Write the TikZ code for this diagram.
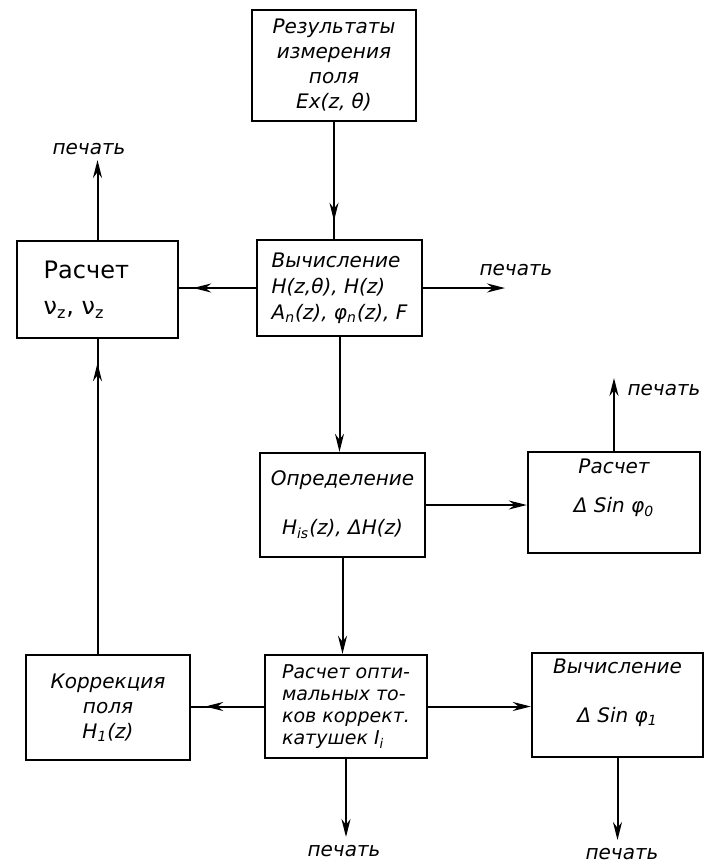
\documentclass[tikz,border=0pt]{standalone}
\usepackage{fontspec}
\setmainfont{DejaVu Sans}
\usetikzlibrary{arrows.meta,decorations.markings}

\tikzset{
  block/.style={draw, line width=1.2pt, inner sep=2pt, align=center,
    font=\itshape\fontsize{10}{12.5}\selectfont},
  outlink/.style={line width=1pt, -{Stealth[length=9pt,width=4.5pt]}},
  tiplink/.style={line width=1pt, postaction=decorate,
    decoration={markings, mark=at position #1 with {\arrow{Stealth[length=9pt,width=4.5pt]}}}},
  printlabel/.style={font=\itshape\fontsize{10}{12}\selectfont}
}

\begin{document}
\begin{tikzpicture}[x=0.5pt, y=-0.5pt]
        \useasboundingbox (0, 0) rectangle (709, 864);

        % Define blocks
        \node at (334, 65.5) (res) [block, minimum width=82pt, minimum height=55.5pt]
            {Результаты\\измерения\\поля\\Ex(z, θ)};
        \node at (339.5, 288) (vych) [block, align=left, minimum width=82.5pt, minimum height=48pt,
            font=\itshape\fontsize{10}{13}\selectfont]
            {Вычисление\\H(z,θ), H(z)\\A\textsubscript{n}(z), φ\textsubscript{n}(z), F};
        \node at (97.5, 289.5) (rasc) [block, align=left, minimum width=80.5pt, minimum height=48.5pt,
            font=\fontsize{12}{18}\selectfont]
            {Расчет\\ν\textsubscript{z}, ν\textsubscript{z}\phantom{mm}};
        \node at (342.5, 505) (opred) [block, minimum width=82.5pt, minimum height=52pt]
            {Определение\\[12pt]H\textsubscript{is}(z), ΔH(z)};
        \node at (614, 502.5) (rsin0) [block, minimum width=86pt, minimum height=50.5pt]
            {Расчет\\[7pt]Δ Sin φ\textsubscript{0}\\[4pt]};
        \node at (108, 707.5) (korr) [block, minimum width=82pt, minimum height=52.5pt]
            {Коррекция\\поля\\H\textsubscript{1}(z)};
        \node at (346, 706.5) (opt) [block, align=left, minimum width=81pt, minimum height=51.5pt,
            font=\itshape\fontsize{9.5}{11}\selectfont]
            {Расчет опти-\\мальных то-\\ков коррект.\\катушек I\textsubscript{i}};
        \node at (617.5, 705) (vsin1) [block, minimum width=85.5pt, minimum height=52pt]
            {Вычисление\\[12pt]Δ Sin φ\textsubscript{1}\\[2pt]};

        % Free ends for print outputs
        \coordinate (pr1) at (505, 288);
        \coordinate (pr2) at (97.5, 160);
        \coordinate (pr3) at (614, 378);
        \coordinate (pr4) at (346, 837);
        \coordinate (pr5) at (617.5, 840);

        \node at (516, 270) (lbl1) [printlabel] {печать};
        \node at (89, 149) (lbl2) [printlabel] {печать};
        \node at (664, 390) (lbl3) [printlabel] {печать};
        \node at (344, 851) (lbl4) [printlabel] {печать};
        \node at (622, 854) (lbl5) [printlabel] {печать};

        % Draw connectors
        \draw[tiplink=-9pt] (res.south) -- (res.south |- vych.north);
        \draw[tiplink=-7pt] (vych.west) -- (vych.west -| rasc.east);
        \draw[outlink] (vych.east) -- (pr1);
        \draw[outlink] (rasc.north) -- (pr2);
        \draw[outlink] (vych.south) -- (vych.south |- opred.north);
        \draw[outlink] (opred.east) -- (opred.east -| rsin0.west);
        \draw[outlink] (rsin0.north) -- (pr3);
        \draw[outlink] (opred.south) -- (opred.south |- opt.north);
        \draw[tiplink=-7pt] (opt.west) -- (opt.west -| korr.east);
        \draw[outlink] (opt.east) -- (opt.east -| vsin1.west);
        \draw[outlink] (opt.south) -- (pr4);
        \draw[outlink] (vsin1.south) -- (pr5);
        \draw[tiplink=-12pt] (rasc.south |- korr.north) -- (rasc.south);
\end{tikzpicture}
\end{document}
